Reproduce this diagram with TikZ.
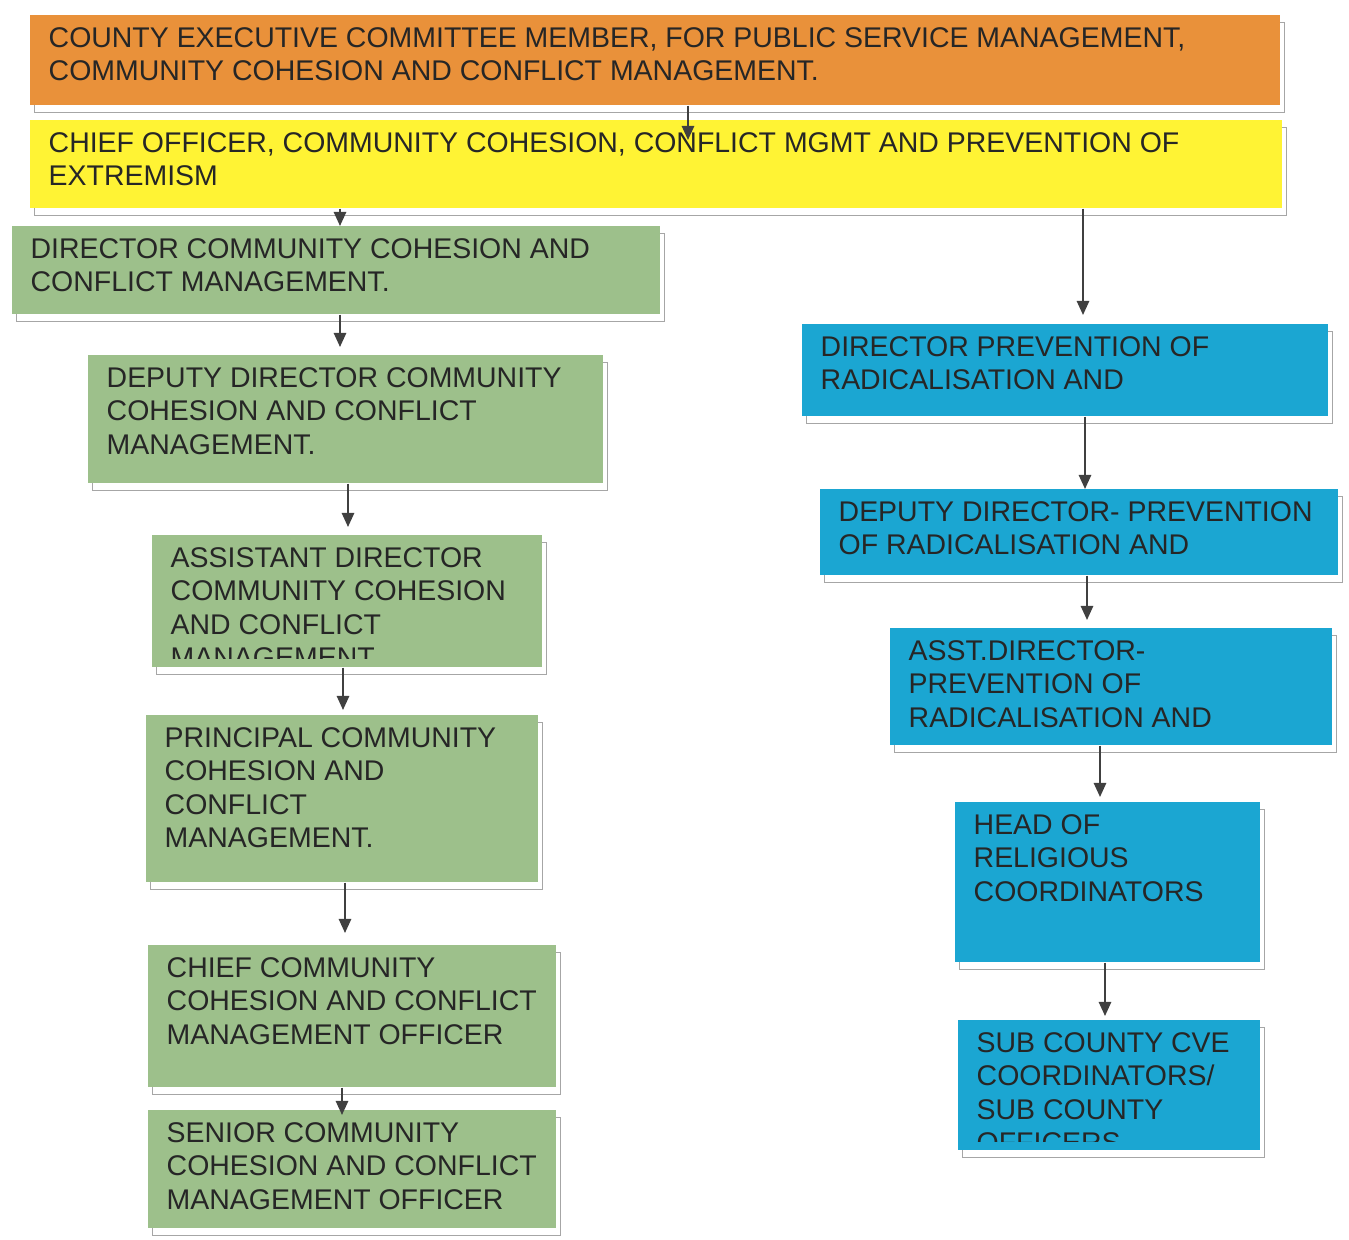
\documentclass[tikz,border=0pt]{standalone}
\usepackage{fontspec}
\setmainfont{Liberation Sans}
\usetikzlibrary{arrows.meta,shadows}
\definecolor{cecorange}{RGB}{233,145,58}
\definecolor{coyellow}{RGB}{255,243,52}
\definecolor{ccgreen}{RGB}{157,192,139}
\definecolor{pvblue}{RGB}{27,166,210}
\tikzset{
postbox/.style={rectangle, anchor=north west, inner sep=0pt,
  copy shadow={shadow xshift=0.08cm, shadow yshift=-0.14cm, draw=gray!70, fill=white, line width=0.9pt}},
posttext/.style={anchor=north west, inner sep=0pt, minimum width=0pt, minimum height=0pt,
  fill=none, draw=none, align=left, text=black!85,
  font=\fontsize{16.2}{19}\selectfont},
link/.style={-{Triangle[length=8pt,width=7pt]}, draw=black!75, line width=1.1pt},
}
% one box: name, colour, x, y, width, height, text
\newcommand{\post}[7]{%
  \node[postbox, fill=#2, minimum width=#5*0.02cm, minimum height=#6*0.02cm,
    path picture={
      \clip (path picture bounding box.north west) rectangle ([yshift=0.18cm]path picture bounding box.south east);
      \node[posttext] (#1-txt) at ([shift={(0.36cm,-0.24cm)}]path picture bounding box.north west) {#7};
    }] (#1) at (#3,#4) {};
}

\begin{document}
\begin{tikzpicture}[x=0.02cm, y=-0.02cm]
    \useasboundingbox (0,0) rectangle (1349,1240);

    % top of the county
    \post{ceo}{cecorange}{30}{15}{1250}{90}{COUNTY EXECUTIVE COMMITTEE MEMBER, FOR PUBLIC SERVICE MANAGEMENT,\\COMMUNITY COHESION AND CONFLICT MANAGEMENT.}
    \post{co}{coyellow}{30}{120}{1252}{88}{CHIEF OFFICER, COMMUNITY COHESION, CONFLICT MGMT AND PREVENTION OF\\EXTREMISM}

    % cohesion and conflict side
    \post{dir}{ccgreen}{12}{226}{648}{88}{DIRECTOR COMMUNITY COHESION AND\\CONFLICT MANAGEMENT.}
    \post{dep}{ccgreen}{88}{355}{515}{128}{DEPUTY DIRECTOR COMMUNITY\\COHESION AND CONFLICT\\MANAGEMENT.}
    \post{asst}{ccgreen}{152}{535}{390}{132}{ASSISTANT DIRECTOR\\COMMUNITY COHESION\\AND CONFLICT\\MANAGEMENT}
    \post{prin}{ccgreen}{146}{715}{392}{167}{PRINCIPAL COMMUNITY\\COHESION AND\\CONFLICT\\MANAGEMENT.}
    \post{chief}{ccgreen}{148}{945}{408}{142}{CHIEF COMMUNITY\\COHESION AND CONFLICT\\MANAGEMENT OFFICER}
    \post{senior}{ccgreen}{148}{1110}{408}{118}{SENIOR COMMUNITY\\COHESION AND CONFLICT\\MANAGEMENT OFFICER}

    % prevention side
    \post{pdir}{pvblue}{802}{324}{526}{92}{DIRECTOR PREVENTION OF\\RADICALISATION AND}
    \post{pdep}{pvblue}{820}{489}{518}{86}{DEPUTY DIRECTOR- PREVENTION\\OF RADICALISATION AND}
    \post{passt}{pvblue}{890}{628}{442}{117}{ASST.DIRECTOR-\\PREVENTION OF\\RADICALISATION AND}
    \post{head}{pvblue}{955}{802}{305}{160}{HEAD OF\\RELIGIOUS\\COORDINATORS}
    \post{sub}{pvblue}{958}{1020}{302}{130}{SUB COUNTY CVE\\COORDINATORS/\\SUB COUNTY\\OFFICERS}

    \draw[link] (ceo.south -| 688,0) -- ([yshift=-0.4cm]co.north -| 688,0);
    \draw[link] (co.south -| 340,0) -- (dir.north -| 340,0);
    \draw[link] (dir.south -| 340,0) -- ([yshift=0.16cm]dep.north -| 340,0);
    \draw[link] (dep.south -| 348,0) -- ([yshift=0.16cm]asst.north -| 348,0);
    \draw[link] (asst.south -| 343,0) -- ([yshift=0.1cm]prin.north -| 343,0);
    \draw[link] (prin.south -| 345,0) -- ([yshift=0.24cm]chief.north -| 345,0);
    \draw[link] (chief.south -| 342,0) -- ([yshift=-0.1cm]senior.north -| 342,0);
    \draw[link] (co.south -| 1083,0) -- ([yshift=0.18cm]pdir.north -| 1083,0);
    \draw[link] (pdir.south -| 1085,0) -- (pdep.north -| 1085,0);
    \draw[link] (pdep.south -| 1087,0) -- ([yshift=0.16cm]passt.north -| 1087,0);
    \draw[link] (passt.south -| 1100,0) -- ([yshift=0.1cm]head.north -| 1100,0);
    \draw[link] (head.south -| 1105,0) -- ([yshift=0.08cm]sub.north -| 1105,0);
\end{tikzpicture}
\end{document}
